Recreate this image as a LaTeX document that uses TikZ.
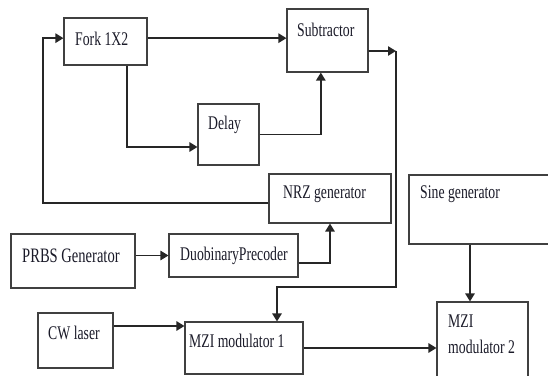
\documentclass[tikz,border=0pt]{standalone}
\usepackage{fontspec}
\setmainfont{Liberation Serif}[FakeStretch=0.71]
\usepackage{tikz}
\usetikzlibrary{arrows.meta,positioning,calc}
\definecolor{boxline}{HTML}{404040}
\definecolor{wireline}{HTML}{262626}
\definecolor{labeltext}{HTML}{1A1A28}

\begin{document}
\begin{tikzpicture}[
  x=0.03cm, y=-0.03cm,
  blk/.style={rectangle, draw=boxline, line width=0.9pt, inner sep=0pt},
  txt/.style={anchor=base west, inner sep=0pt, text=labeltext, font=\fontsize{16.5}{18}\selectfont},
  arr/.style={-{Triangle[length=2.4mm,width=2.8mm]}, line width=1.4pt, wireline}
]
\useasboundingbox (0,0) rectangle (548,376);
\clip (0,0) rectangle (548,376);

% blocks
\node[blk, minimum width=2.49cm, minimum height=1.41cm] (fork) at (105.5,41.5) {};
\node[blk, minimum width=2.43cm, minimum height=1.89cm] (sub) at (327.5,40.5) {};
\node[blk, minimum width=1.83cm, minimum height=1.83cm] (delay) at (228.5,134.5) {};
\node[blk, minimum width=3.66cm, minimum height=1.47cm] (nrz) at (330,198.5) {};
\node[blk, minimum width=4.68cm, minimum height=2.07cm] (sine) at (487,209.5) {};
\node[blk, minimum width=3.72cm, minimum height=1.62cm] (prbs) at (73,261) {};
\node[blk, minimum width=3.87cm, minimum height=1.29cm] (duo) at (233.5,255.5) {};
\node[blk, minimum width=2.25cm, minimum height=1.65cm] (cw) at (75.5,340.5) {};
\node[blk, minimum width=3.54cm, minimum height=1.56cm] (mzi1) at (244,348) {};
\node[blk, minimum width=2.73cm, minimum height=2.64cm] (mzi2) at (482.5,346) {};

% labels
\node[txt] (forkT) at (75,46) {Fork 1X2};
\node[txt] (subT) at (297,36.5) {Subtractor};
\node[txt] (delayT) at (208,130) {Delay};
\node[txt] (nrzT) at (283,199) {NRZ generator};
\node[txt] (sineT) at (420,199) {Sine generator};
\node[txt, font=\fontsize{17.5}{19}\selectfont] (prbsT) at (22,263) {PRBS Generator};
\node[txt] (duoT) at (180,261) {DuobinaryPrecoder};
\node[txt] (cwT) at (48,340) {CW laser};
\node[txt] (mzi1T) at (189,348) {MZI modulator 1};
\node[txt] (mzi2T) at (448,328) {MZI};
\node[txt] (mzi2U) at (448,354) {modulator 2};

% turning points
\coordinate (fbk) at (43,120);
\coordinate (tap) at (396,51);
\coordinate (turn) at (396,287);

% connectors
\draw[arr] ([yshift=-0.14cm]nrz.west) -| (fbk) |- ([yshift=0.1cm]fork.west);
\draw[arr] ([yshift=0.1cm]fork.east) -- ([yshift=0.1cm]fork.east -| sub.west);
\draw[arr] ([xshift=0.645cm]fork.south) |- ([yshift=-0.375cm]delay.west);
\draw[arr] (delay.east) -| ([xshift=-0.2cm]sub.south);
\draw[arr] ([yshift=-0.315cm]sub.east) -- (tap);
\draw[arr] (tap) -- (turn) -| ([xshift=0.99cm]mzi1.north);
\draw[arr] (prbs.east |- duo.west) -- (duo.west);
\draw[arr] ([yshift=-0.225cm]duo.east) -| (nrz.south);
\draw[arr] ([xshift=-0.51cm]sine.south) -- ([xshift=-0.51cm]sine.south |- mzi2.north);
\draw[arr] ([yshift=0.435cm]cw.east) -- ([yshift=0.435cm]cw.east -| mzi1.west);
\draw[arr] (mzi1.east) -- (mzi1.east -| mzi2.west);
\end{tikzpicture}
\end{document}
